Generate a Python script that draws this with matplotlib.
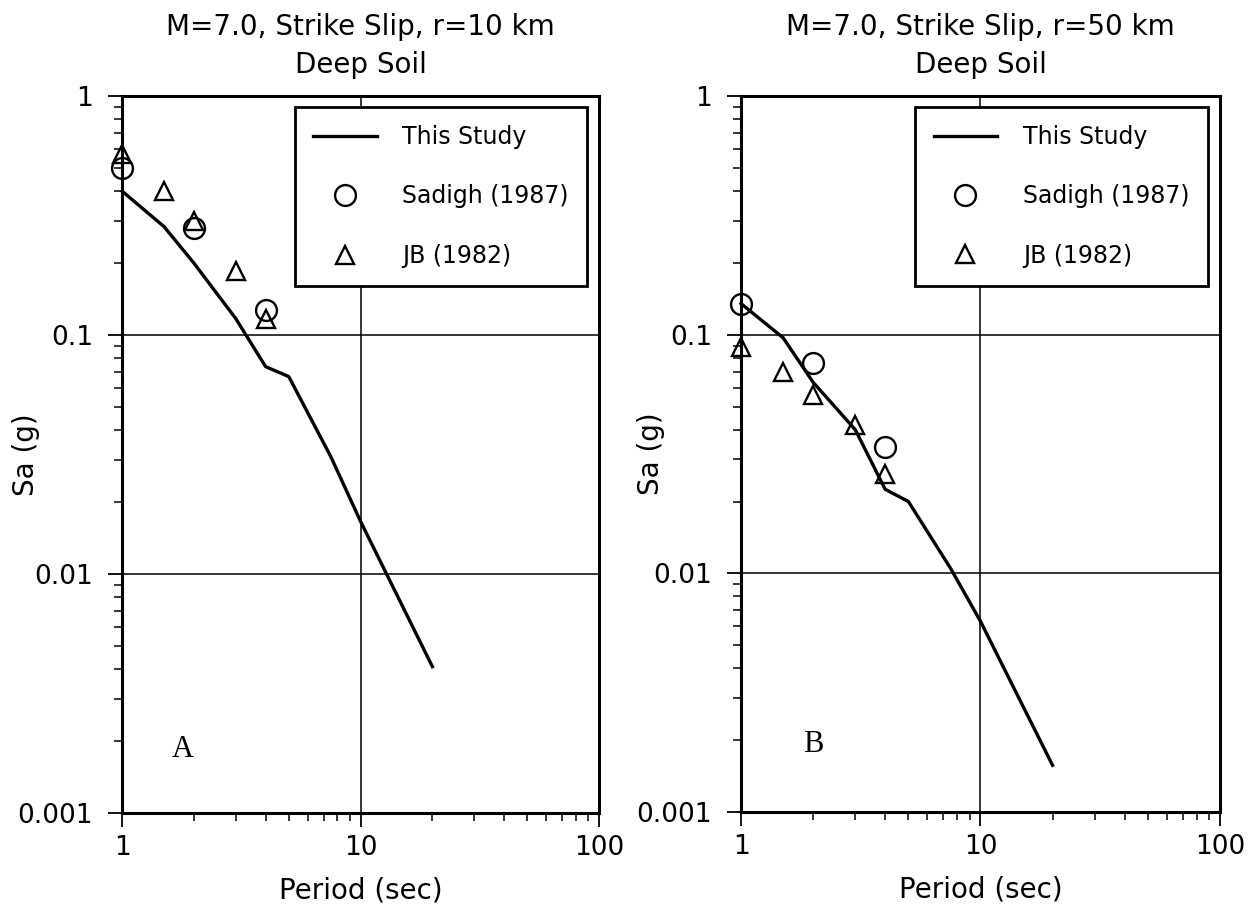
import matplotlib
matplotlib.use("Agg")
from matplotlib import pyplot as plt
from matplotlib.ticker import LogLocator, NullFormatter

# periode (sec)
periods_line = [1, 1.5, 2, 3, 4, 5, 7.5, 10, 20]

# panel A : r = 10 km
studyA = [0.40, 0.284, 0.20, 0.117, 0.0737, 0.067, 0.031, 0.0166, 0.0041]
sadigh_T_A = [1, 2, 4]
sadighA = [0.50, 0.28, 0.127]
jb_T_A = [1, 1.5, 2, 3, 4]
jbA = [0.57, 0.40, 0.30, 0.185, 0.117]

# panel B : r = 50 km
studyB = [0.135, 0.097, 0.0632, 0.040, 0.0225, 0.020, 0.0105, 0.0063, 0.00157]
sadigh_T_B = [1, 2, 4]
sadighB = [0.135, 0.076, 0.034]
jb_T_B = [1, 1.5, 2, 3, 4]
jbB = [0.0885, 0.070, 0.056, 0.042, 0.026]

titles = ["M=7.0, Strike Slip, r=10 km\nDeep Soil",
          "M=7.0, Strike Slip, r=50 km\nDeep Soil"]
panel_tags = ["A", "B"]
yticks = [1, 0.1, 0.01, 0.001]
ytick_labels = ["1", "0.1", "0.01", "0.001"]
xticks = [1, 10, 100]
xtick_labels = ["1", "10", "100"]

plt.rcParams['font.family'] = ['DejaVu Sans']

fig = plt.figure(figsize=(12.57, 9.16), dpi=100)
axA = fig.add_axes([0.0971, 0.1124, 0.3795, 0.7828])
axB = fig.add_axes([0.5895, 0.1135, 0.381, 0.7817])


def draw_panel(ax, study, sT, sv, jT, jv, title, tag, tagpos, ylab_x):
    ax.set_xscale('log')
    ax.set_yscale('log')
    ax.set_xlim(1, 100)
    ax.set_ylim(0.001, 1)

    ax.grid(True, which='major', color='black', linewidth=1.1)
    ax.plot(periods_line, study, color='black', linewidth=2.4, label='This Study',
            clip_on=False, zorder=3)
    ax.plot(sT, sv, linestyle='none', marker='o', markersize=15, markerfacecolor='none',
            markeredgecolor='black', markeredgewidth=1.7, label='Sadigh (1987)',
            clip_on=False, zorder=4)
    ax.plot(jT, jv, linestyle='none', marker='^', markersize=13.5, markerfacecolor='none',
            markeredgecolor='black', markeredgewidth=1.7, label='JB (1982)',
            clip_on=False, zorder=4)

    ax.set_xticks(xticks, xtick_labels, fontsize=19)
    ax.set_yticks(yticks, ytick_labels, fontsize=19)
    ax.xaxis.set_minor_locator(LogLocator(base=10, subs=range(2, 10)))
    ax.yaxis.set_minor_locator(LogLocator(base=10, subs=range(2, 10)))
    ax.xaxis.set_minor_formatter(NullFormatter())
    ax.yaxis.set_minor_formatter(NullFormatter())
    ax.tick_params(which='major', direction='out', length=10, width=1.3, pad=6)
    ax.tick_params(which='minor', direction='out', length=5.5, width=1.1)
    ax.tick_params(axis='y', which='major', pad=11)

    for s in ax.spines.values():
        s.set_linewidth(2.2)

    ax.set_xlabel('Period (sec)', fontsize=20, labelpad=11)
    ax.set_ylabel('Sa (g)', fontsize=20)
    ax.yaxis.set_label_coords(ylab_x, 0.5)
    ax.set_title(title, fontsize=20, pad=16.5, linespacing=1.45)

    ax.text(tagpos[0], tagpos[1], tag, transform=ax.transAxes, fontsize=22,
            family='Liberation Serif', ha='center', va='center')

    leg = ax.legend(loc='upper right', bbox_to_anchor=(0.975, 0.985), fontsize=17,
                    frameon=True, fancybox=False, framealpha=1, edgecolor='black',
                    borderpad=0.77, labelspacing=1.5, handlelength=2.7,
                    handletextpad=1.1, borderaxespad=0, numpoints=1)
    leg.get_frame().set_linewidth(2.0)


draw_panel(axA, studyA, sadigh_T_A, sadighA, jb_T_A, jbA, titles[0], panel_tags[0],
           (0.128, 0.088), -0.172)
draw_panel(axB, studyB, sadigh_T_B, sadighB, jb_T_B, jbB, titles[1], panel_tags[1],
           (0.150, 0.094), -0.159)

fig.savefig('out.png', dpi=100)
